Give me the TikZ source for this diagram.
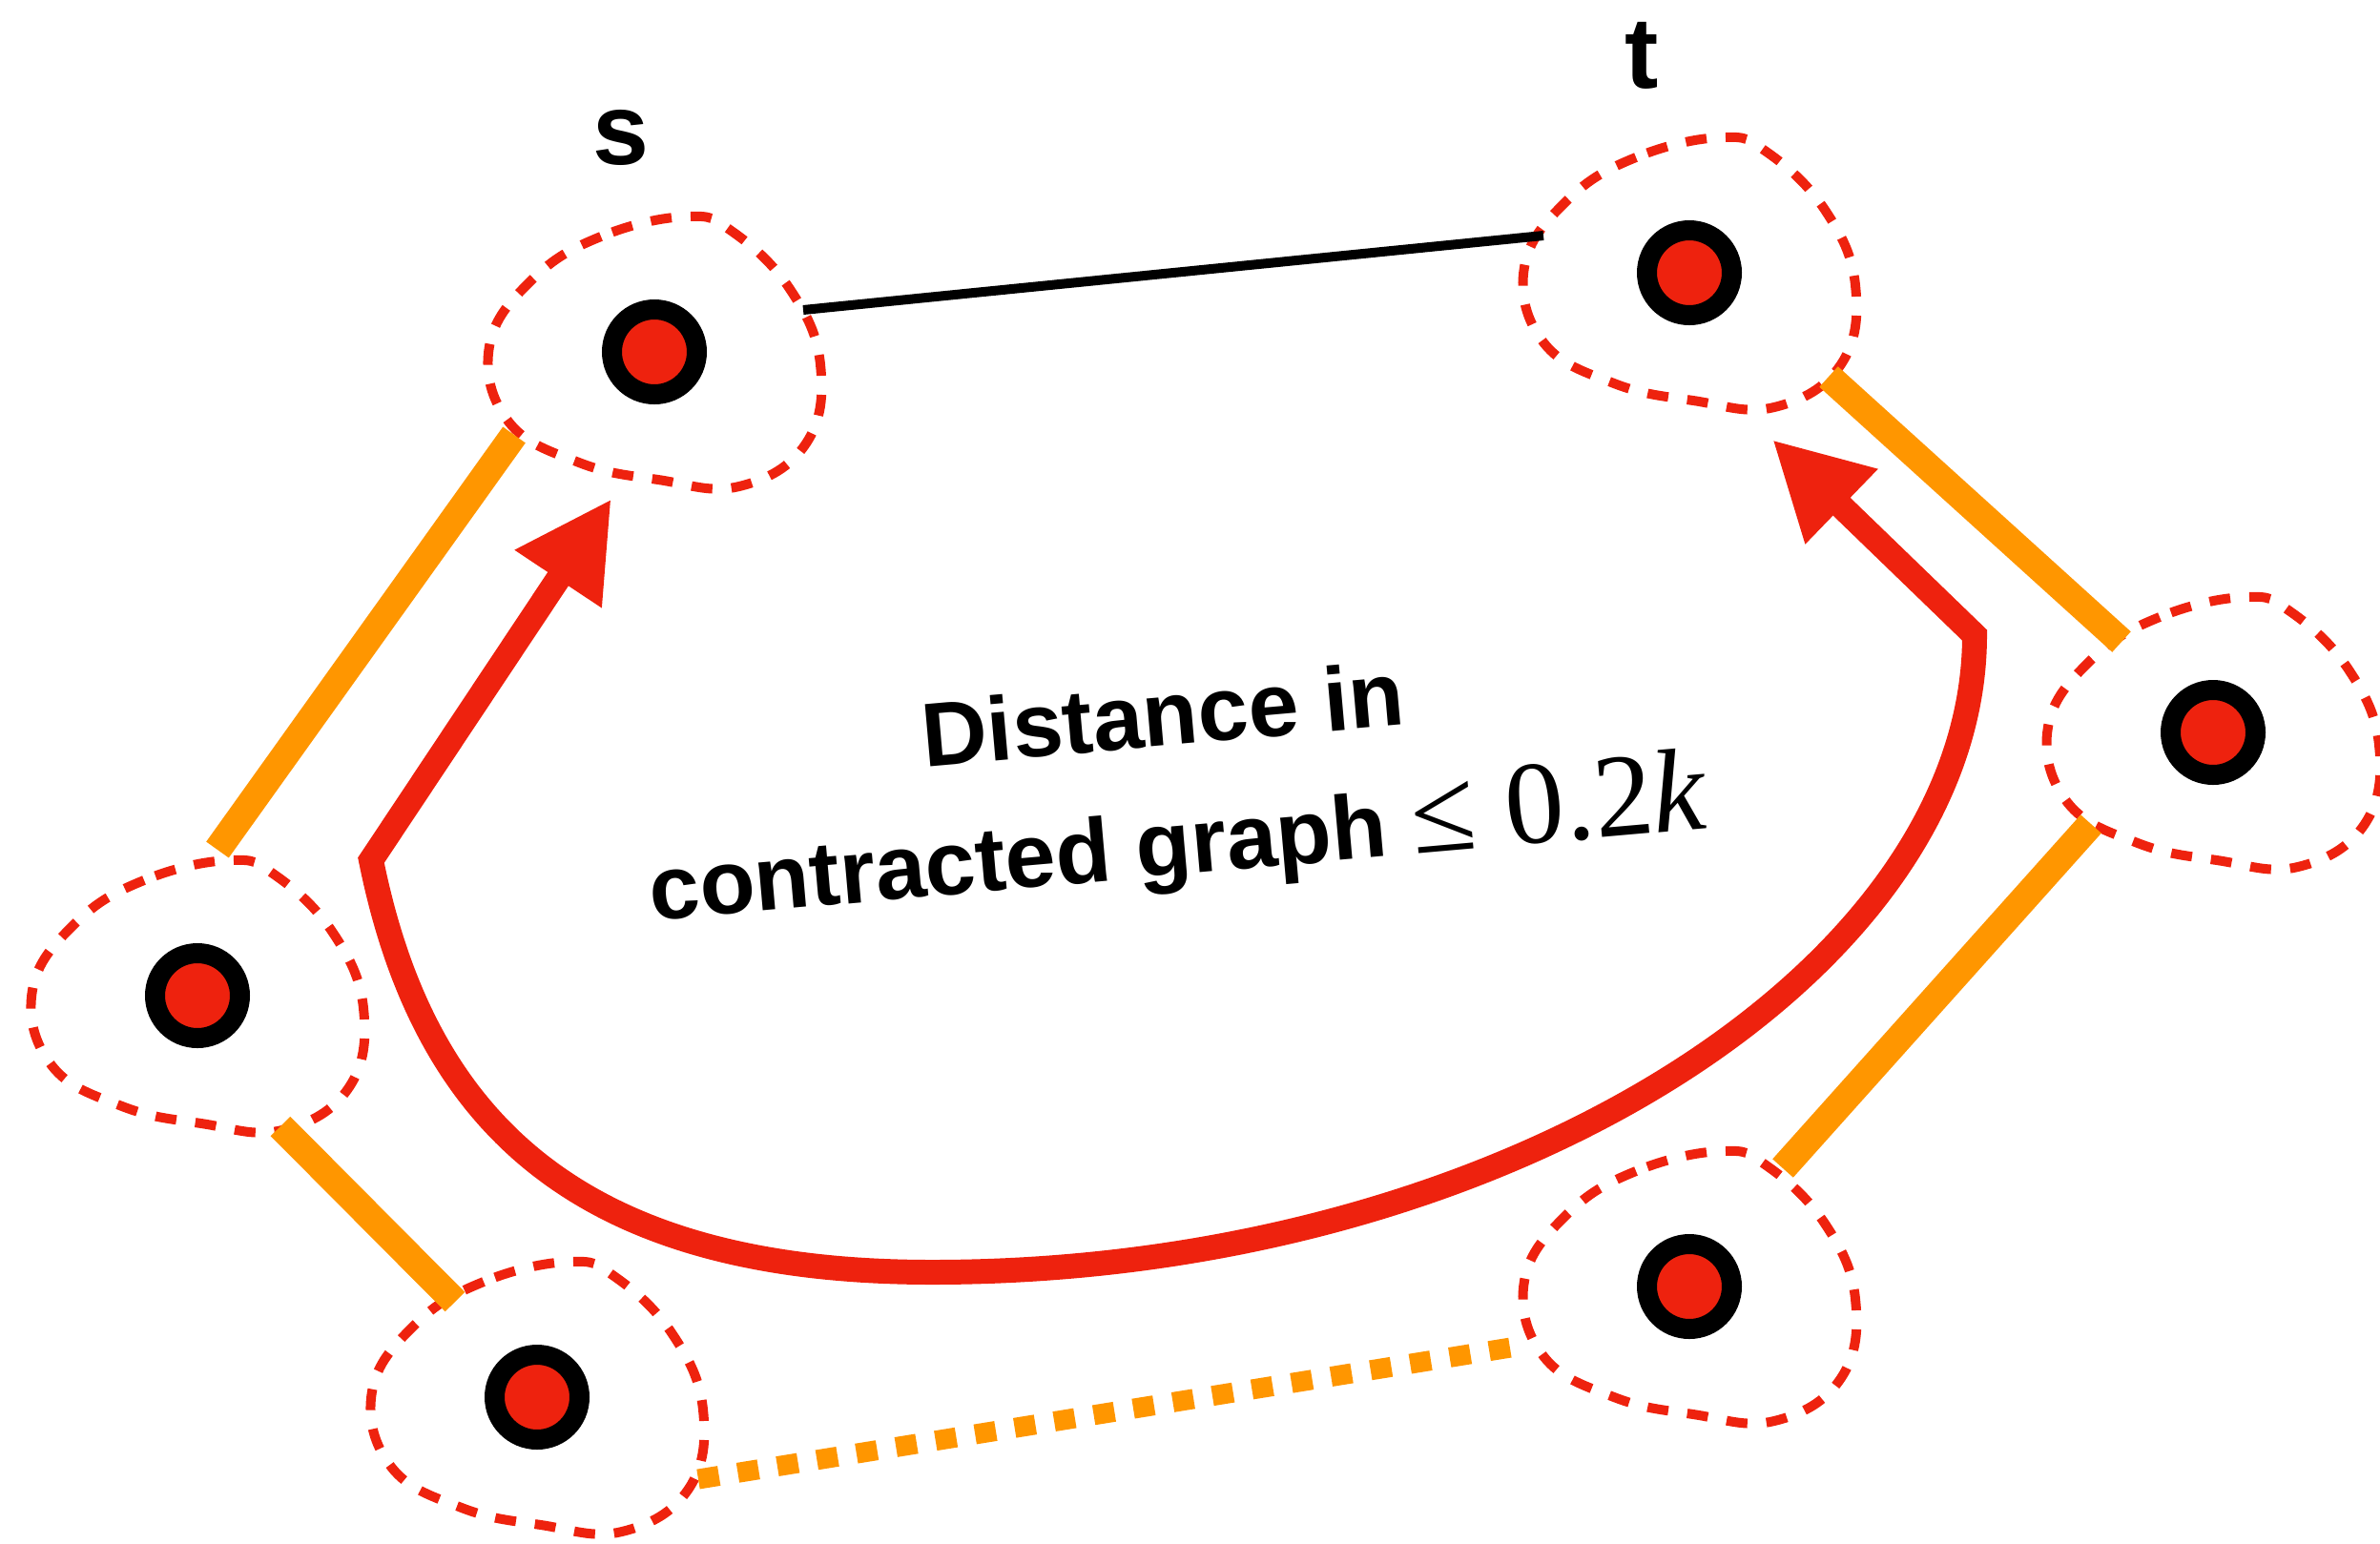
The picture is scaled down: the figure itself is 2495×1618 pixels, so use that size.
\documentclass[tikz,border=0pt]{standalone}
\usepackage{fontspec}
\setmainfont{Liberation Sans}
\newfontfamily\mathfnt{Liberation Serif}
\usetikzlibrary{arrows.meta}
\definecolor{dred}{RGB}{238,34,14}
\definecolor{dorange}{RGB}{255,150,0}
\begin{document}
\begin{tikzpicture}[x=1pt,y=-1pt,
  blobline/.style={draw=dred, line width=10pt, dash pattern=on 22pt off 20pt},
  blob/.pic={\path[blobline] plot[smooth cycle, tension=0.7] coordinates {(34,-142) (-56,-121) (-128,-76) (-173,-6) (-153,73) (-79,116) (4,134) (89,141) (159,96) (174,13) (142,-66) (82,-126)};},
  vertex/.style={circle, draw=black, fill=dred, line width=21pt, minimum size=89pt, inner sep=0pt},
  orangeline/.style={draw=dorange, line width=29pt},
  orangedot/.style={draw=dorange, line width=21pt, dash pattern=on 22pt off 20pt},
  blackline/.style={draw=black, line width=10pt},
  redpath/.style={draw=dred, line width=26pt, line join=miter,
    {Triangle[length=101pt,width=102pt]}-{Triangle[length=101pt,width=102pt]}},
  txt/.style={font=\bfseries\fontsize{95}{115}\selectfont, inner sep=0pt, text=black},
  lbl/.style={font=\bfseries\fontsize{106}{120}\selectfont, inner sep=0pt, text=black}
]
\useasboundingbox (0,0) rectangle (2495,1618);

% vertex positions
\coordinate (ps) at (686,369);
\coordinate (pt) at (1771,286);
\coordinate (pr) at (2320,768);
\coordinate (pl) at (207,1044);
\coordinate (pbl) at (563,1465);
\coordinate (pbr) at (1771,1349);

% blobs
\pic at (ps) {blob};
\pic at (pt) {blob};
\pic at (pr) {blob};
\pic at (pl) {blob};
\pic at (pbl) {blob};
\pic at (pbr) {blob};

% connector end points
\coordinate (st1) at (842,325);
\coordinate (st2) at (1618,247);
\coordinate (sl1) at (539,456);
\coordinate (sl2) at (228,891);
\coordinate (lb1) at (294,1181);
\coordinate (lb2) at (477,1365);
\coordinate (tr1) at (1917,395);
\coordinate (tr2) at (2224,673);
\coordinate (rb1) at (2192,864);
\coordinate (rb2) at (1869,1225);
\coordinate (bb1) at (732,1551);
\coordinate (bb2) at (1596,1411);

\draw[blackline] (st1) -- (st2);
\draw[orangeline] (sl1) -- (sl2);
\draw[orangeline] (lb1) -- (lb2);
\draw[orangeline] (tr1) -- (tr2);
\draw[orangeline] (rb1) -- (rb2);
\draw[orangedot] (bb1) -- (bb2);

% red path
\coordinate (tipA) at (641,523);
\coordinate (cA) at (389,902);
\coordinate (bot) at (977,1334);
\coordinate (cB) at (2070,666);
\coordinate (tipB) at (1858,461);
\draw[redpath] (tipA) -- (cA) .. controls (445,1180) and (610,1334) .. (bot)
  .. controls (1577,1334) and (2070,1016) .. (cB) -- (tipB);

% vertices
\node[vertex] (s) at (ps) {};
\node[vertex] (t) at (pt) {};
\node[vertex] (r) at (pr) {};
\node[vertex] (l) at (pl) {};
\node[vertex] (bl) at (pbl) {};
\node[vertex] (br) at (pbr) {};

% labels
\node[lbl, anchor=base] (slabel) at (651,172) {s};
\node[lbl, anchor=base] (tlabel) at (1721,92) {t};
\node[txt, anchor=base, rotate=5] (line1) at (1222,782) {Distance in};
\node[txt, anchor=base, rotate=5] (line2) at (1238,917) {contracted graph {\mathfnt\mdseries\fontsize{124}{130}\selectfont ≤ 0.2\textit{k}}};
\end{tikzpicture}
\end{document}
